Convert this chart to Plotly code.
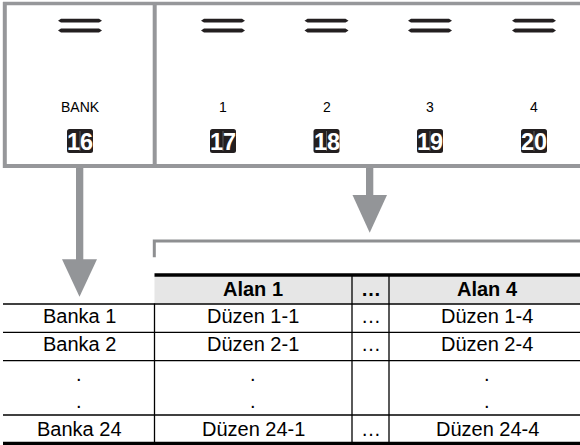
import plotly.graph_objects as go

# ---------------- data ----------------
button_labels = ["BANK", "1", "2", "3", "4"]
button_ids = ["16", "17", "18", "19", "20"]
header_labels = ["", "Alan 1", "…", "Alan 4"]
col_banka = ["Banka 1", "Banka 2", ".", ".", "Banka 24"]
col_alan1 = ["Düzen 1-1", "Düzen 2-1", ".", ".", "Düzen 24-1"]
col_mid = ["…", "…", "", "", "…"]
col_alan4 = ["Düzen 1-4", "Düzen 2-4", ".", ".", "Düzen 24-4"]

# ---------------- layout geometry ----------------
W, H = 580, 445
GRAY = "#96979a"
ARROW = "#939598"
BLACK = "#231f20"
FONT = "Liberation Sans, Arial, Helvetica, sans-serif"

btn_x = [80, 223, 326.5, 430, 534]
shapes = []
ann = []


def line(x0, y0, x1, y1, color, width):
    shapes.append(dict(type="line", x0=x0, y0=y0, x1=x1, y1=y1, xref="x", yref="y",
                       line=dict(color=color, width=width)))


def poly(points, color):
    p = "M " + " L ".join(f"{x},{y}" for x, y in points) + " Z"
    shapes.append(dict(type="path", path=p, xref="x", yref="y", fillcolor=color,
                       line=dict(width=0)))


def rect(x0, y0, x1, y1, color):
    shapes.append(dict(type="rect", x0=x0, y0=y0, x1=x1, y1=y1, xref="x", yref="y",
                       fillcolor=color, line=dict(width=0), layer="below"))


def text(x, y, s, size, color="black", bold=False, family=FONT):
    ann.append(dict(x=x, y=y, xref="x", yref="y", text=f"<b>{s}</b>" if bold else s,
                    showarrow=False, xanchor="center", yanchor="middle", borderpad=0,
                    font=dict(family=family, size=size, color=color)))


# top panel frame
line(3, 3.5, W, 3.5, GRAY, 3.5)
line(4.8, 2, 4.8, 168, GRAY, 4)
line(3, 166, W, 166, GRAY, 4)
line(154.7, 2, 154.7, 168, GRAY, 4)

# buttons
for cx, lab, bid in zip(btn_x, button_labels, button_ids):
    for yy in (20.7, 30.5):
        hh = 1.9
        poly([(cx - 22, yy), (cx - 19, yy - hh), (cx + 19, yy - hh), (cx + 22, yy),
              (cx + 19, yy + hh), (cx - 19, yy + hh)], BLACK)
    text(cx, 106.5, lab, 14, "black")
    x0, x1, y0, y1, r = cx - 13, cx + 13, 129, 153, 2.5
    p = (f"M {x0+r},{y0} L {x1-r},{y0} Q {x1},{y0} {x1},{y0+r} L {x1},{y1-r} "
         f"Q {x1},{y1} {x1-r},{y1} L {x0+r},{y1} Q {x0},{y1} {x0},{y1-r} "
         f"L {x0},{y0+r} Q {x0},{y0} {x0+r},{y0} Z")
    shapes.append(dict(type="path", path=p, xref="x", yref="y", fillcolor=BLACK,
                       line=dict(width=0)))
    text(cx, 141.5, bid, 23.5, "white", bold=True)
    line(cx, 131, cx, 151, "#6d6e70", 0.8)

# arrows
rect(76, 168, 83.3, 260, ARROW)
poly([(62, 259.3), (97, 259.3), (79.5, 296.7)], ARROW)
rect(366, 168, 373.3, 195.5, ARROW)
poly([(352.5, 195), (387, 195), (369.7, 232.7)], ARROW)

# bracket
shapes.append(dict(type="path", path=f"M 154.3,257.3 L 154.3,241 L {W},241",
                   xref="x", yref="y", line=dict(color="#8e8f91", width=3)))

# table
col_cx = [79, 253, 370.5, 487]
rect(154.5, 276.5, W, 303.5, "#e6e6e6")
line(154.5, 275, W, 275, "black", 3.3)
for yy in (304, 332.3, 360.7, 415):
    line(3, yy, W, yy, "black", 1.3)
line(3, 443.4, W, 443.4, "black", 3.5)
line(154.5, 303.5, 154.5, 442, "black", 1.3)
line(352, 275, 352, 442, "black", 1.3)
line(389, 275, 389, 442, "black", 1.3)

for cx, h in zip(col_cx, header_labels):
    if h:
        text(cx, 288.5, h, 20, "black", bold=True)

row_y = [315.5, 343.5, 374, 401, 428.5]
for ci, col in enumerate([col_banka, col_alan1, col_mid, col_alan4]):
    for ry, s in zip(row_y, col):
        if s:
            text(col_cx[ci], ry, s, 20, "black")

fig = go.Figure()
fig.add_trace(go.Scatter(x=[0, W], y=[0, H], mode="markers", marker=dict(opacity=0),
                         hoverinfo="skip", showlegend=False))
fig.update_layout(
    width=W, height=H, margin=dict(l=0, r=0, t=0, b=0),
    paper_bgcolor="white", plot_bgcolor="white",
    xaxis=dict(range=[0, W], visible=False, fixedrange=True),
    yaxis=dict(range=[H, 0], visible=False, fixedrange=True),
    shapes=shapes, annotations=ann, showlegend=False,
)
fig.write_html("out.html", config={"displayModeBar": False},
               post_script="document.body.style.margin='0';document.body.style.overflow='hidden';")
